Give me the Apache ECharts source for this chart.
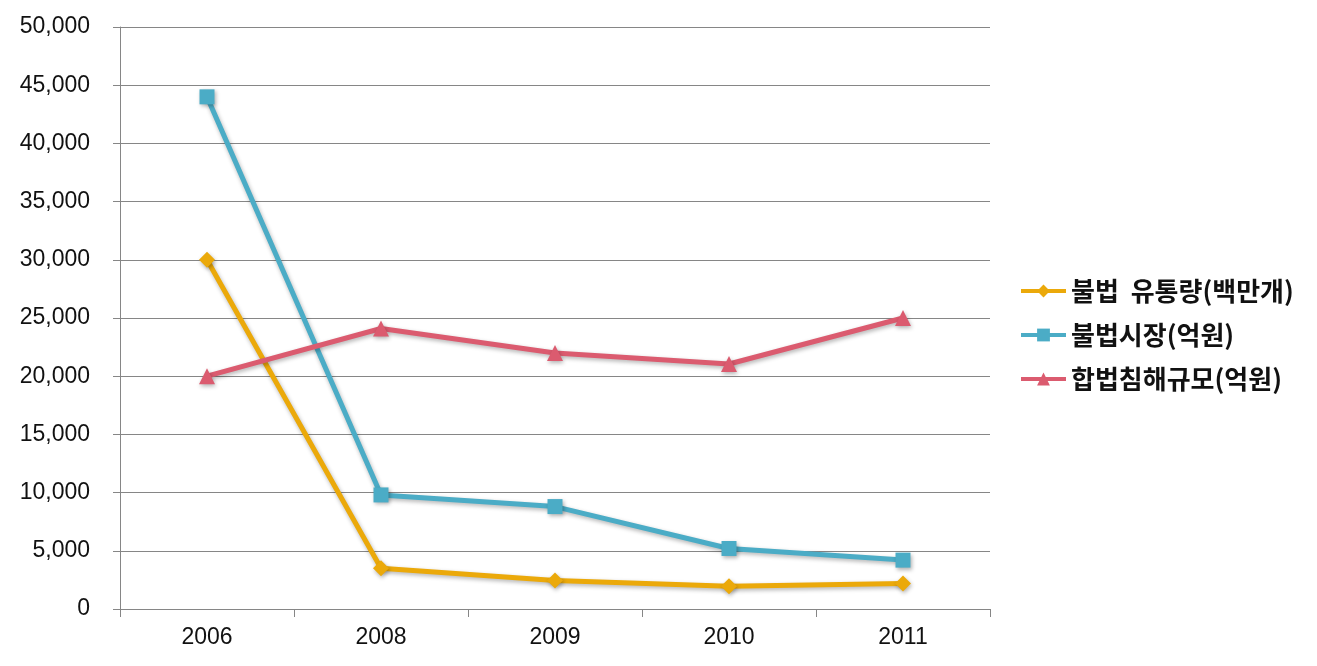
<!DOCTYPE html>
<html><head><meta charset="utf-8">
<script src="https://cdn.jsdelivr.net/npm/echarts@6/dist/echarts.min.js"></script>
<style>html,body{margin:0;padding:0;background:#fff}#c{width:1317px;height:666px}</style>
</head><body><div id="c"></div>
<script>
var categories = ['2006', '2008', '2009', '2010', '2011'];
var illegalVolume = [30000, 3500, 2450, 1950, 2200];
var illegalMarket = [44000, 9800, 8800, 5200, 4200];
var legalDamage = [20000, 24100, 22000, 21050, 25000];
var seriesNames = ['불법  유통량(백만개)', '불법시장(억원)', '합법침해규모(억원)'];

var chart = echarts.init(document.getElementById('c'));
var shadow = {shadowColor: 'rgba(0,0,0,0.3)', shadowBlur: 4, shadowOffsetX: 1, shadowOffsetY: 2};
function mk(name, data, color, symbol, size) {
  return {
    name: name, type: 'line', data: data, symbol: symbol, symbolSize: size,
    lineStyle: Object.assign({color: color, width: 5}, shadow),
    itemStyle: Object.assign({color: color}, shadow),
    emphasis: {disabled: true}
  };
}
chart.setOption({
  animation: false,
  textStyle: {fontFamily: 'Arial, "Liberation Sans", sans-serif'},
  grid: {left: 120, right: 327, top: 27, bottom: 57, containLabel: false},
  legend: {
    orient: 'vertical', left: 1014, top: 272, itemWidth: 45, itemHeight: 16, itemGap: 16,
    lineStyle: {width: 4},
    textStyle: {fontSize: 26, fontWeight: 'bold', color: '#111', lineHeight: 28,
      fontFamily: '"Noto Sans CJK KR", sans-serif'},
    data: seriesNames
  },
  xAxis: {
    type: 'category', data: categories, boundaryGap: true,
    axisLine: {lineStyle: {color: '#868686', width: 1}},
    axisTick: {show: true, length: 8, lineStyle: {color: '#868686'}},
    axisLabel: {fontSize: 23, color: '#111', margin: 17}
  },
  yAxis: {
    type: 'value', min: 0, max: 50000, interval: 5000,
    axisLine: {show: true, lineStyle: {color: '#868686', width: 1}},
    axisTick: {show: true, length: 7, lineStyle: {color: '#868686'}},
    axisLabel: {fontSize: 23, color: '#111', margin: 30,
      formatter: function (v) { return v.toLocaleString('en-US'); }},
    splitLine: {lineStyle: {color: '#868686', width: 1}}
  },
  series: [
    mk(seriesNames[0], illegalVolume, '#EBA90A', 'diamond', 16),
    mk(seriesNames[1], illegalMarket, '#4BACC6', 'rect', 15),
    mk(seriesNames[2], legalDamage, '#DB5B6F', 'triangle', 16)
  ]
});
</script></body></html>
